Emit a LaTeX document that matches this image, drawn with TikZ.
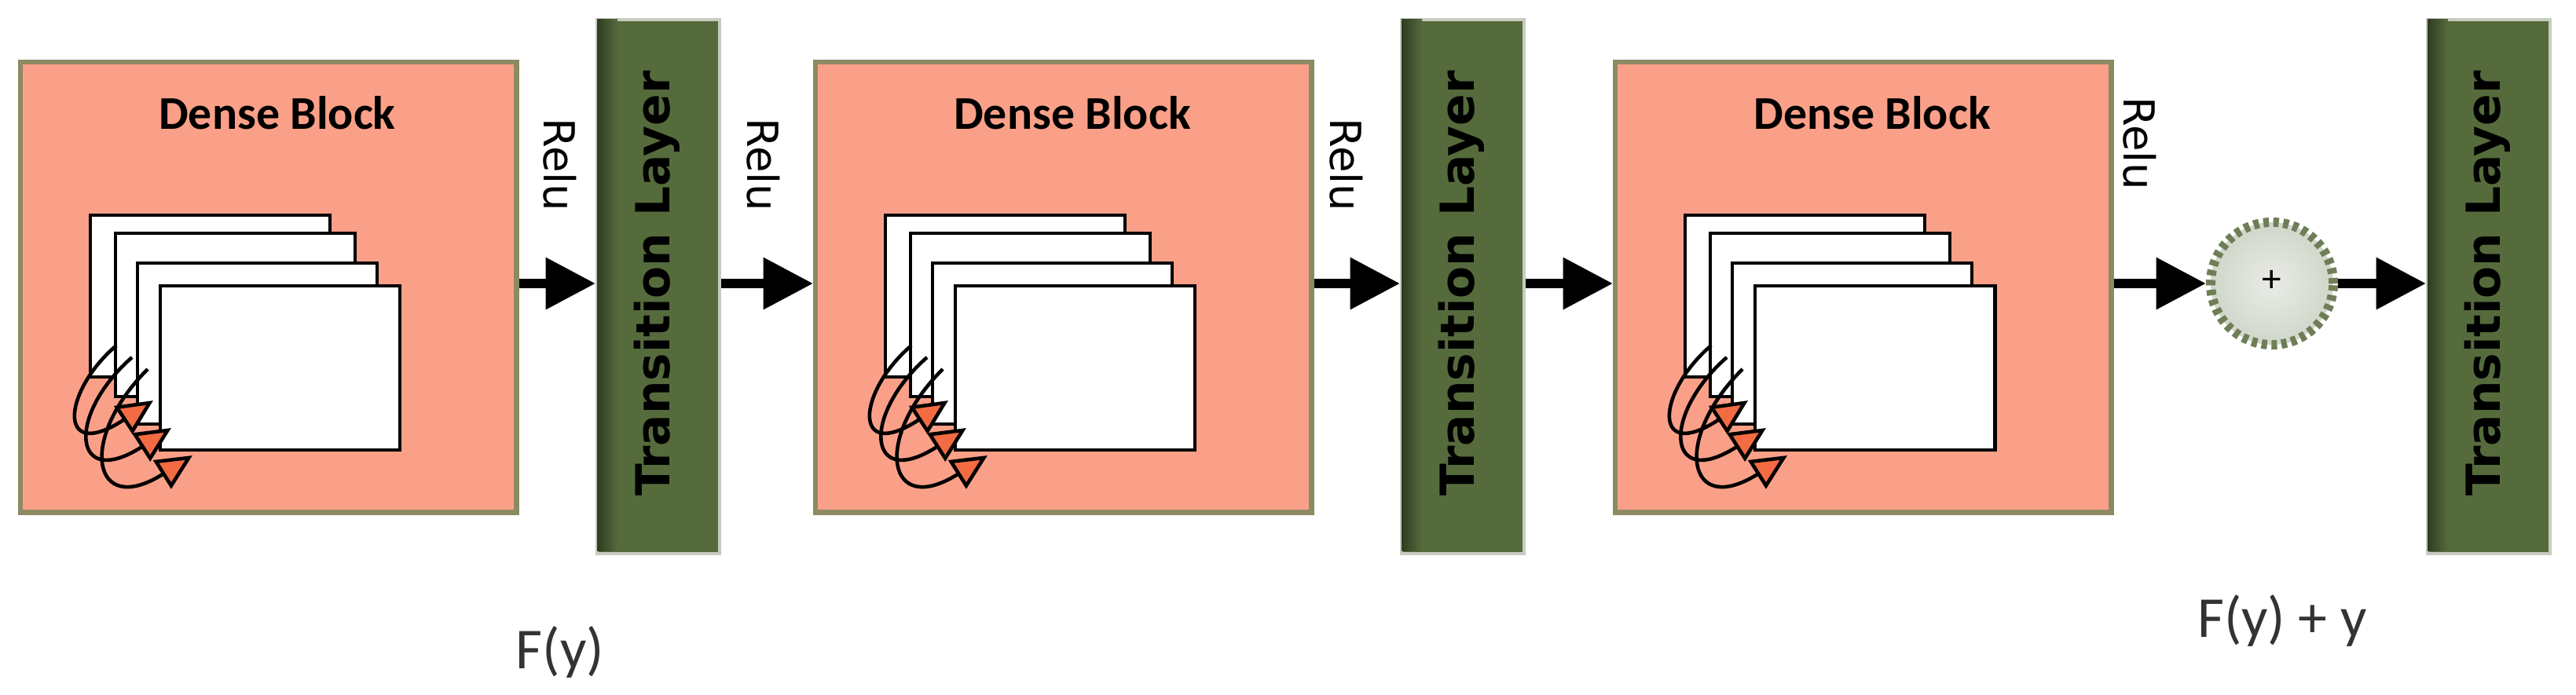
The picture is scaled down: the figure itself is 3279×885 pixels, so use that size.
\documentclass[tikz,border=0pt]{standalone}
\usepackage{fontspec}
\setmainfont{Carlito}
\newfontfamily\tlfont{DejaVu Sans}
\usetikzlibrary{arrows.meta,shadings}
\definecolor{salmon}{HTML}{FBA088}
\definecolor{dbborder}{HTML}{8C8A62}
\definecolor{tlgreen}{HTML}{556B3C}
\definecolor{tlborder}{HTML}{C8CCC0}
\definecolor{gear}{HTML}{6E7F58}
\definecolor{orangetip}{HTML}{F26B43}
\tikzset{
  dense/.style={draw=dbborder,line width=1.8pt,fill=salmon,minimum width=6.31cm,minimum height=5.73cm,anchor=north west,inner sep=0},
  trans/.style={draw=tlborder,line width=1pt,fill=tlgreen,minimum width=1.56cm,minimum height=6.8cm,anchor=north west,inner sep=0},
  tltext/.style={font=\tlfont\bfseries\fontsize{17}{20}\selectfont,rotate=90},
  relu/.style={font=\tlfont\fontsize{15.5}{17}\selectfont,rotate=-90},
  sheet/.style={draw=black,line width=1.4pt,fill=white},
  conn/.style={line width=3.4pt,-{Triangle[length=18pt,width=18pt]}},
  loopar/.style={line width=1.3pt,-{Triangle[length=13pt,width=12pt,fill=orangetip]}},
  lbl/.style={font=\fontsize{21}{24}\selectfont,text=black!80}
}
\begin{document}
\begin{tikzpicture}[x=0.01cm,y=-0.01cm]
\useasboundingbox (0,0) rectangle (3279,885);
\foreach \i/\L in {1/23,2/1035,3/2053}{
  \node[dense] (db\i) at (\L,76) {};
  \node[font=\bfseries\fontsize{17}{20}\selectfont] (dbl\i) at (\L+330,144) {Dense Block};
  \foreach \dx/\t/\b in {92/274/480,124/297/505,152/335/540,181/364/573}
    \draw[sheet] (\L+\dx,\t) rectangle (\L+\dx+305,\b);
  \draw[loopar] (\L+125,440) .. controls (\L+55,500) and (\L+50,590) .. (\L+172,510);
  \draw[loopar] (\L+145,455) .. controls (\L+60,530) and (\L+70,625) .. (\L+195,545);
  \draw[loopar] (\L+165,470) .. controls (\L+75,560) and (\L+95,660) .. (\L+222,580);
}
\foreach \i/\L in {1/758,2/1782,3/3088}{
  \node[trans] (tl\i) at (\L,23) {};
  \shade[left color=black!45!tlgreen,right color=tlgreen] (\L+2,25) rectangle (\L+28,701);
  \node[tltext] (tlt\i) at (\L+78,361) {Transition Layer};
}
\node[relu] (r1) at (713,210) {Relu};
\node[relu] (r2) at (972,210) {Relu};
\node[relu] (r3) at (1714,210) {Relu};
\node[relu] (r4) at (2724,183) {Relu};
\node[circle,minimum size=1.56cm,inner sep=0,draw=gear,line width=3.4pt,dash pattern=on 2pt off 1.6pt,inner color=white!85!gear,outer color=white!68!gear] (plus) at (2892,361) {};
\node[font=\fontsize{14}{14}\selectfont] at (2892,358) {+};
\draw[conn] (db1.east |- 0,361) -- (tl1.west |- 0,361);
\draw[conn] (tl1.east |- 0,361) -- (db2.west |- 0,361);
\draw[conn] (db2.east |- 0,361) -- (tl2.west |- 0,361);
\draw[conn] (tl2.east |- 0,361) -- (db3.west |- 0,361);
\draw[conn] (db3.east |- 0,361) -- (plus.west);
\draw[conn] (plus.east) -- (tl3.west |- 0,361);
\node[lbl] (fy) at (713,830) {F(y)};
\node[lbl] (fyy) at (2905,790) {F(y) + y};
\end{tikzpicture}
\end{document}
